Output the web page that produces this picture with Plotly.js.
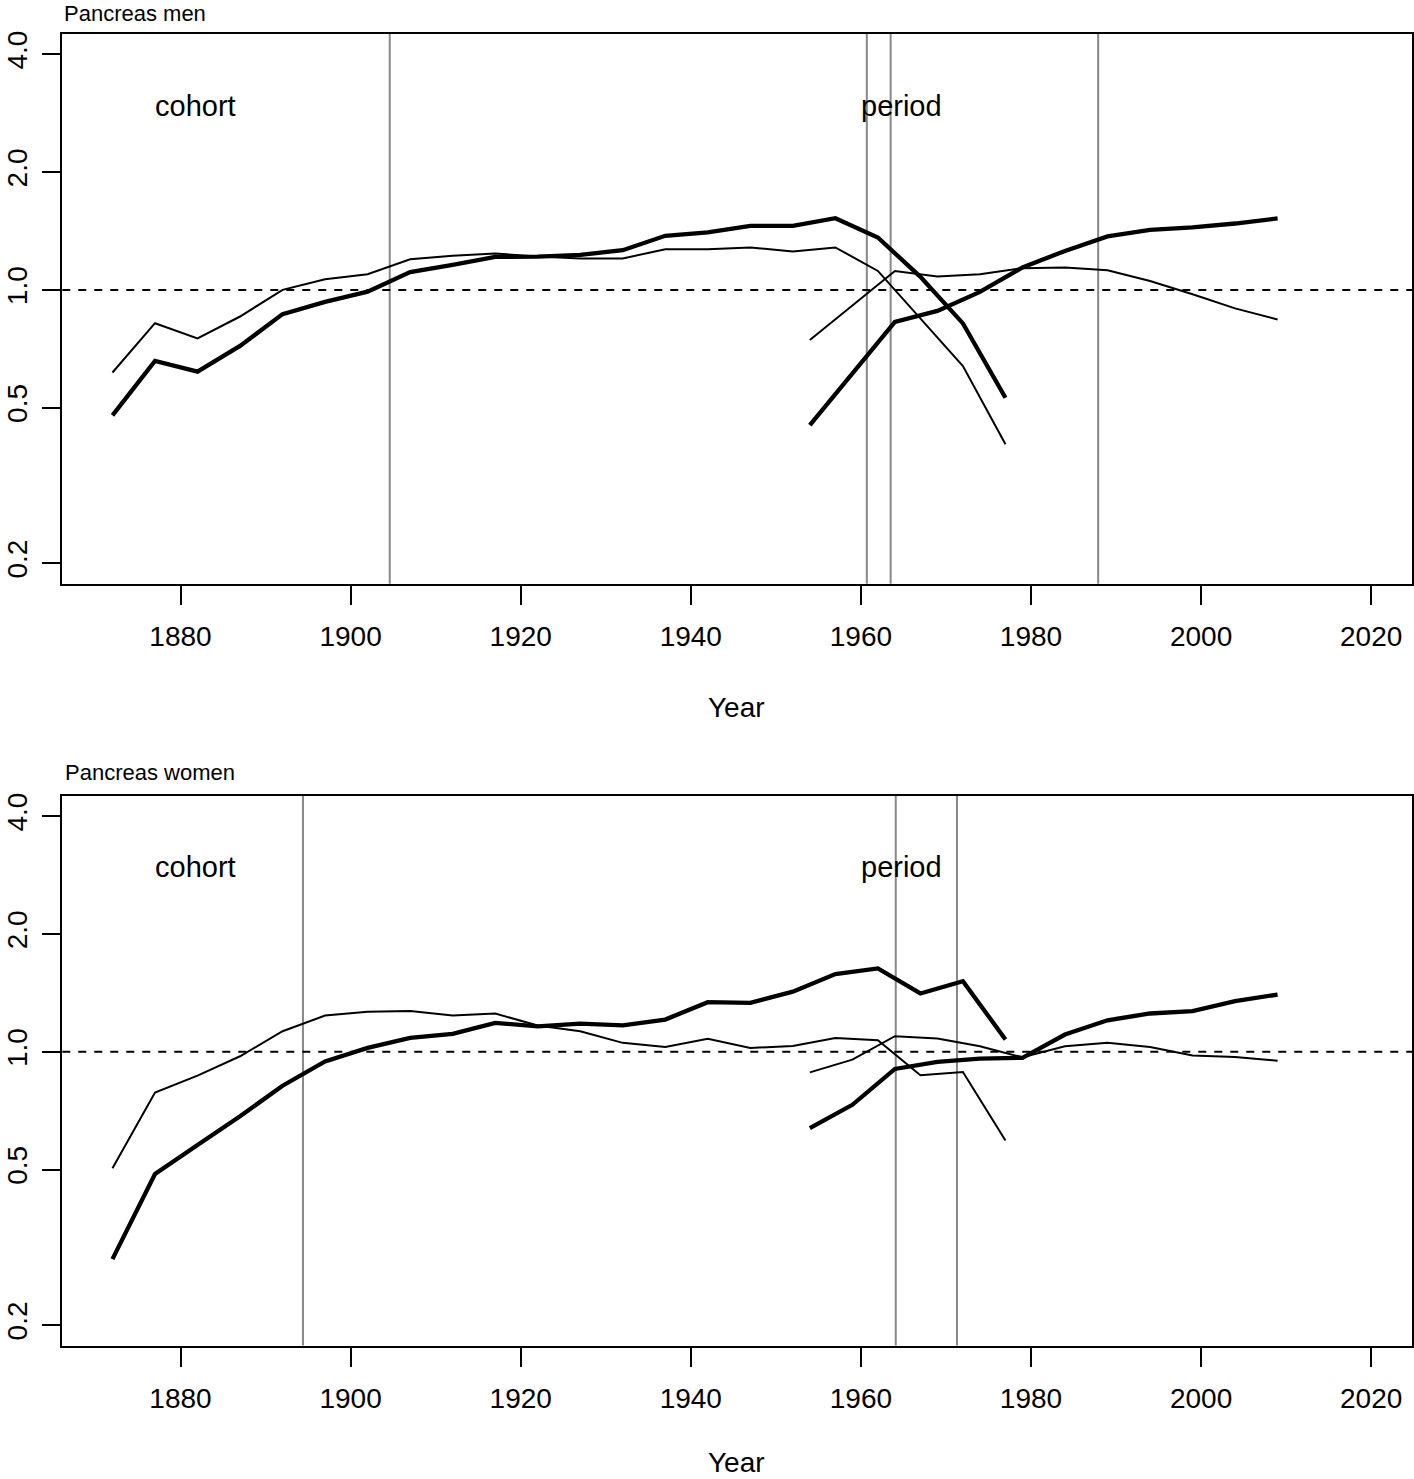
<!DOCTYPE html>
<html>
<head>
<meta charset="utf-8">
<script src="https://cdn.plot.ly/plotly-3.0.1.min.js"></script>
<style>
  html, body { margin: 0; padding: 0; background: #ffffff; }
  #chart { width: 1414px; height: 1479px; }
</style>
</head>
<body>
<div id="chart"></div>
<script>
// ---- data ----
const cohortYears = [1872,1877,1882,1887,1892,1897,1902,1907,1912,1917,1922,1927,1932,1937,1942,1947,1952,1957,1962,1967,1972,1977];
const periodYears = [1954,1959,1964,1969,1974,1979,1984,1989,1994,1999,2004,2009];

const menCohortThick = [0.478,0.658,0.618,0.719,0.867,0.932,0.990,1.110,1.158,1.214,1.217,1.229,1.263,1.375,1.402,1.458,1.458,1.525,1.361,1.080,0.821,0.530];
const menCohortThin  = [0.615,0.822,0.752,0.855,1.000,1.065,1.097,1.198,1.222,1.239,1.217,1.203,1.203,1.271,1.271,1.284,1.254,1.284,1.118,0.848,0.639,0.403];
const menPeriodThick = [0.451,0.611,0.828,0.884,0.988,1.141,1.258,1.370,1.424,1.444,1.478,1.523];
const menPeriodThin  = [0.745,0.913,1.118,1.082,1.097,1.136,1.141,1.123,1.054,0.975,0.897,0.840];

const womenCohortThick = [0.295,0.487,0.578,0.684,0.819,0.945,1.023,1.085,1.111,1.186,1.162,1.181,1.169,1.209,1.339,1.334,1.425,1.580,1.634,1.410,1.516,1.075];
const womenCohortThin  = [0.504,0.787,0.869,0.974,1.129,1.238,1.266,1.272,1.238,1.253,1.167,1.129,1.054,1.029,1.079,1.023,1.035,1.085,1.070,0.871,0.888,0.593];
const womenPeriodThick = [0.638,0.732,0.904,0.942,0.961,0.965,1.107,1.204,1.253,1.270,1.347,1.401];
const womenPeriodThin  = [0.886,0.955,1.096,1.081,1.033,0.968,1.033,1.054,1.029,0.978,0.970,0.949];

const menBreaks   = [1904.6, 1960.7, 1963.5, 1987.9];
const womenBreaks = [1894.4, 1964.1, 1971.3];

const xTickVals = [1880,1900,1920,1940,1960,1980,2000,2020];
const yTickVals = [0.2,0.5,1,2,4];
const yTickText = ['0.2','0.5','1.0','2.0','4.0'];
const panelTitles = ['Pancreas men','Pancreas women'];
const xTitle = 'Year';
const cohortLabel = 'cohort';
const periodLabel = 'period';
const refLevel = 1;

// ---- styling / layout ----
const W = 1414, H = 1479;
const FONT = '"Liberation Sans", Arial, Helvetica, sans-serif';
const xDomain = [62.3/W, 1412.4/W];
const topDom = [1 - 583.7/H, 1 - 34/H];
const botDom = [1 - 1345.5/H, 1 - 796/H];
const xRange = [1866.1, 2024.85];
const yRange = [Math.log10(0.2) - 0.04*Math.log10(20), Math.log10(4) + 0.04*Math.log10(20)];

function line(x, y, width, xa, ya) {
  return {type:'scatter', mode:'lines', x:x, y:y, xaxis:xa, yaxis:ya,
          line:{color:'#000000', width:width}, hoverinfo:'skip', showlegend:false};
}

const traces = [
  line(cohortYears, menCohortThin, 2, 'x', 'y'),
  line(cohortYears, menCohortThick, 4.3, 'x', 'y'),
  line(periodYears, menPeriodThin, 2, 'x', 'y'),
  line(periodYears, menPeriodThick, 4.3, 'x', 'y'),
  line(cohortYears, womenCohortThin, 2, 'x2', 'y2'),
  line(cohortYears, womenCohortThick, 4.3, 'x2', 'y2'),
  line(periodYears, womenPeriodThin, 2, 'x2', 'y2'),
  line(periodYears, womenPeriodThick, 4.3, 'x2', 'y2')
];

function xAxis(anchor) {
  return {domain:xDomain, anchor:anchor, range:xRange, type:'linear',
    tickmode:'array', tickvals:xTickVals, ticks:'outside', ticklen:19, tickwidth:2, tickcolor:'#000',
    showline:true, mirror:true, linewidth:2, linecolor:'#000', showgrid:false, zeroline:false,
    tickfont:{family:FONT, size:28, color:'#000'}, ticklabelstandoff:8, fixedrange:true};
}
function yAxis(anchor, dom) {
  return {domain:dom, anchor:anchor, type:'log', range:yRange,
    tickmode:'array', tickvals:yTickVals, ticktext:yTickText, tickangle:-90,
    ticks:'outside', ticklen:18, tickwidth:2, tickcolor:'#000',
    showline:true, mirror:true, linewidth:2, linecolor:'#000', showgrid:false, zeroline:false,
    tickfont:{family:FONT, size:28, color:'#000'}, ticklabelstandoff:4, fixedrange:true};
}

const shapes = [];
function addBreaks(arr, xa, ya) {
  arr.forEach(v => shapes.push({type:'line', layer:'below', xref:xa, yref:ya+' domain',
    x0:v, x1:v, y0:0, y1:1, line:{color:'#888888', width:2}}));
}
addBreaks(menBreaks, 'x', 'y');
addBreaks(womenBreaks, 'x2', 'y2');
[['x','y'],['x2','y2']].forEach(([xa,ya]) => shapes.push({type:'line', layer:'below',
  xref:xa+' domain', yref:ya, x0:0, x1:1, y0:refLevel, y1:refLevel,
  line:{color:'#000', width:2, dash:'8px,8px'}}));

const annotations = [];
function panelText(i, xa, ya, yTopPx) {
  if (i === 0) {
    annotations.push({xref:'paper', yref:'paper', x:63/W, y:1, xanchor:'left', yanchor:'top', borderpad:0,
      text:panelTitles[i], showarrow:false, font:{family:FONT, size:22, color:'#000'}});
  } else {
    annotations.push({xref:'paper', yref:'paper', x:63/W, y:1 - (yTopPx - 24)/H, xanchor:'left', yanchor:'middle',
      text:panelTitles[i], showarrow:false, font:{family:FONT, size:22, color:'#000'}});
  }
  annotations.push({xref:xa, yref:ya, x:1881.8, y:Math.log10(2.96), xanchor:'center', yanchor:'middle',
    text:cohortLabel, showarrow:false, font:{family:FONT, size:29, color:'#000'}});
  annotations.push({xref:xa, yref:ya, x:1964.8, y:Math.log10(2.96), xanchor:'center', yanchor:'middle',
    text:periodLabel, showarrow:false, font:{family:FONT, size:29, color:'#000'}});
}
panelText(0, 'x', 'y', 34);
panelText(1, 'x2', 'y2', 796);
annotations.push({xref:'paper', yref:'paper', x:737/W, y:1 - 707/H, xanchor:'center', yanchor:'middle',
  text:xTitle, showarrow:false, font:{family:FONT, size:28, color:'#000'}});
annotations.push({xref:'paper', yref:'paper', x:737/W, y:0, xanchor:'center', yanchor:'bottom', borderpad:0,
  text:xTitle, showarrow:false, font:{family:FONT, size:28, color:'#000'}});

const layout = {
  width:W, height:H, margin:{l:0, r:0, t:0, b:0, pad:0},
  paper_bgcolor:'#ffffff', plot_bgcolor:'#ffffff', showlegend:false,
  font:{family:FONT, color:'#000'},
  xaxis:xAxis('y'), yaxis:yAxis('x', topDom),
  xaxis2:xAxis('y2'), yaxis2:yAxis('x2', botDom),
  shapes:shapes, annotations:annotations
};

Plotly.newPlot('chart', traces, layout, {staticPlot:true, displayModeBar:false});
</script>
</body>
</html>
